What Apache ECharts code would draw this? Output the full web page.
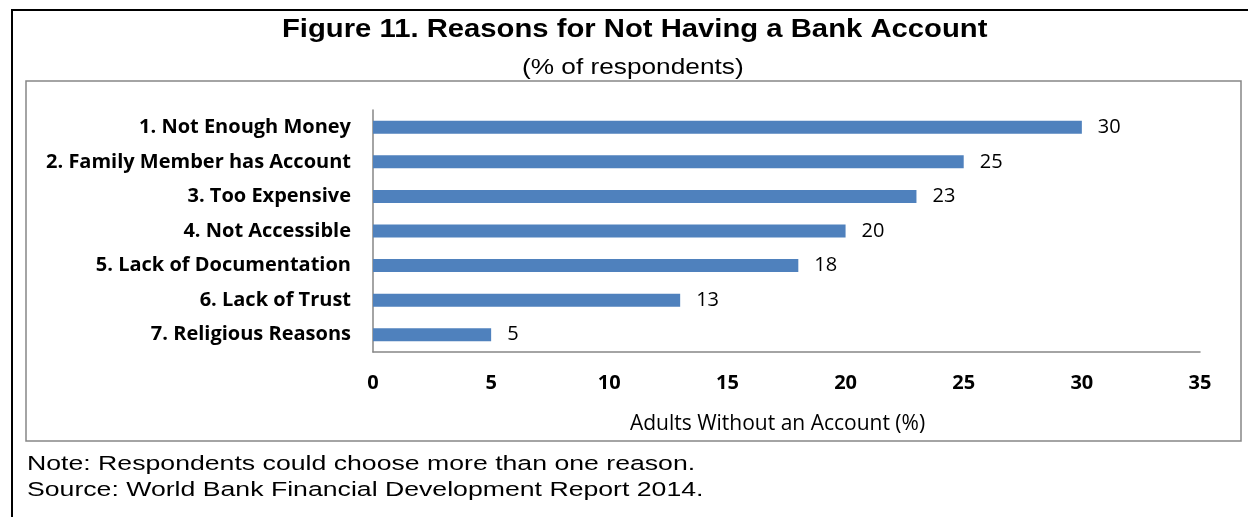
<!DOCTYPE html>
<html>
<head>
<meta charset="utf-8">
<script src="https://cdn.jsdelivr.net/npm/echarts@6/dist/echarts.min.js"></script>
<style>
html,body{margin:0;padding:0;background:#fff;}
#chart{width:1248px;height:517px;}
</style>
</head>
<body>
<div id="chart"></div>
<script>
const categories = [
  "1. Not Enough Money",
  "2. Family Member has Account",
  "3. Too Expensive",
  "4. Not Accessible",
  "5. Lack of Documentation",
  "6. Lack of Trust",
  "7. Religious Reasons"
];
const values = [30, 25, 23, 20, 18, 13, 5];
const xTicks = [0, 5, 10, 15, 20, 25, 30, 35];
const titleText = "Figure 11. Reasons for Not Having a Bank Account";
const subtitleText = "(% of respondents)";
const axisTitle = "Adults Without an Account (%)";
const noteLines = [
  "Note: Respondents could choose more than one reason.",
  "Source: World Bank Financial Development Report 2014."
];

const calibri = "'Open Sans', Lato, sans-serif";

const chart = echarts.init(document.getElementById('chart'), null, {renderer: 'canvas'});
chart.setOption({
  animation: false,
  backgroundColor: '#fff',
  grid: {left: 373, right: 48, top: 110, bottom: 165},
  xAxis: {
    type: 'value',
    min: xTicks[0],
    max: xTicks[xTicks.length - 1],
    interval: 5,
    name: axisTitle,
    nameLocation: 'middle',
    nameGap: 62,
    nameTextStyle: {fontFamily: calibri, fontSize: 21, color: '#000', padding: [0, 18, 0, 0]},
    axisLine: {show: true, lineStyle: {color: '#868686', width: 1.5}},
    axisTick: {show: false},
    splitLine: {show: false},
    axisLabel: {fontFamily: calibri, fontWeight: 'bold', fontSize: 20, color: '#000', margin: 21}
  },
  yAxis: {
    type: 'category',
    data: categories,
    inverse: true,
    axisLine: {show: true, lineStyle: {color: '#868686', width: 1.5}},
    axisTick: {show: false},
    axisLabel: {fontFamily: calibri, fontWeight: 'bold', fontSize: 20, color: '#000', margin: 22}
  },
  series: [{
    type: 'bar',
    data: values,
    barWidth: 13,
    itemStyle: {color: '#4F81BD'},
    label: {show: true, position: 'right', distance: 16, fontFamily: calibri, fontSize: 20, color: '#000'}
  }],
  graphic: [
    {type: 'rect', shape: {x: 12, y: 10, width: 1300, height: 600}, style: {fill: null, stroke: '#000', lineWidth: 2}, silent: true},
    {type: 'rect', shape: {x: 26, y: 81, width: 1215, height: 360}, style: {fill: null, stroke: '#868686', lineWidth: 1.5}, silent: true},
    {type: 'text', x: 282, y: 30, scaleX: 1.17, style: {text: titleText, font: "bold 25px 'Liberation Sans', Arial, sans-serif", fill: '#000', verticalAlign: 'middle', align: 'left'}},
    {type: 'text', x: 522, y: 68, scaleX: 1.22, style: {text: subtitleText, font: "21.5px 'Liberation Sans', Arial, sans-serif", fill: '#000', verticalAlign: 'middle', align: 'left'}},
    {type: 'text', x: 27, y: 464, scaleX: 1.3, style: {text: noteLines[0], font: "20.5px 'Liberation Sans', Arial, sans-serif", fill: '#000', verticalAlign: 'middle', align: 'left'}},
    {type: 'text', x: 27, y: 490, scaleX: 1.3, style: {text: noteLines[1], font: "20.5px 'Liberation Sans', Arial, sans-serif", fill: '#000', verticalAlign: 'middle', align: 'left'}}
  ]
});
</script>
</body>
</html>
